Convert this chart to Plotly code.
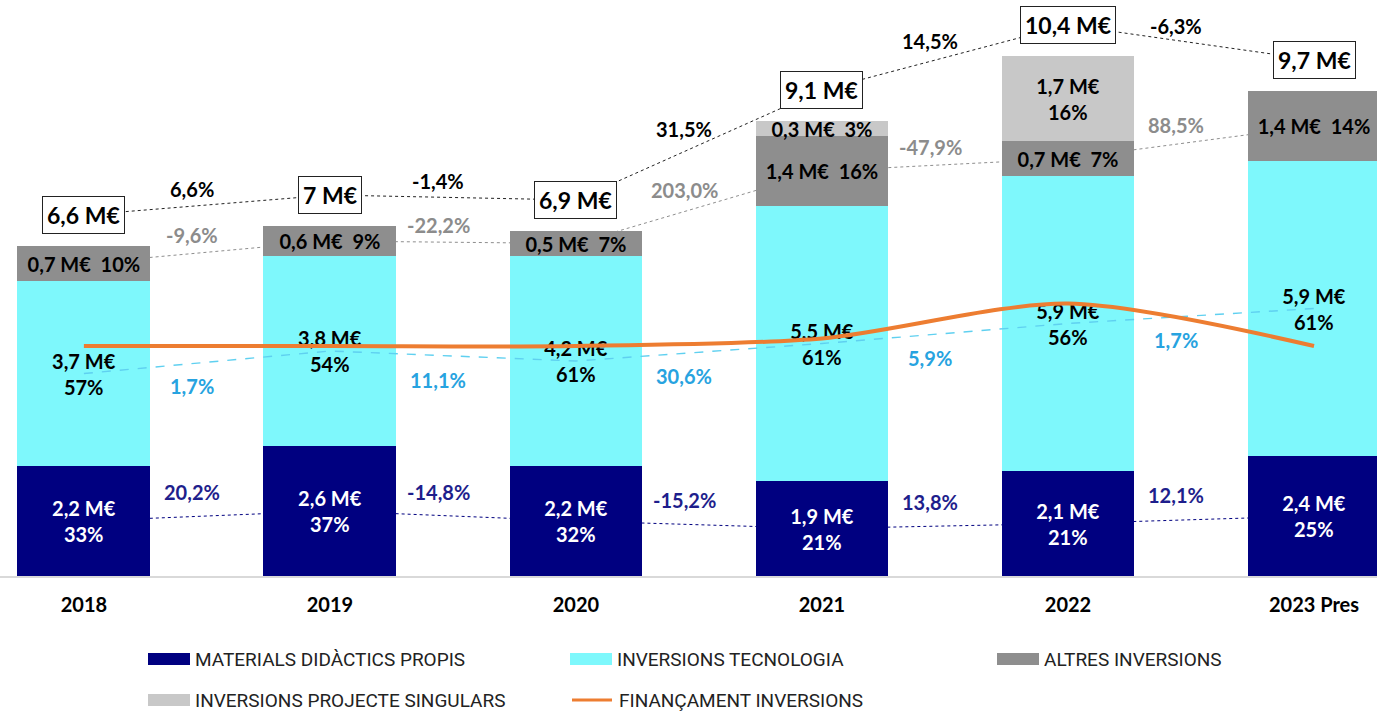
import plotly.graph_objects as go

# ---------------- data ----------------
years = ["2018", "2019", "2020", "2021", "2022", "2023 Pres"]
materials = [2.2, 2.6, 2.2, 1.9, 2.1, 2.4]
tecnologia = [3.7, 3.8, 4.2, 5.5, 5.9, 5.9]
altres = [0.7, 0.6, 0.5, 1.4, 0.7, 1.4]
singulars = [0.0, 0.0, 0.0, 0.3, 1.7, 0.0]
totals = [6.6, 7.0, 6.9, 9.1, 10.4, 9.7]
financament = [4.6, 4.6, 4.6, 4.75, 5.45, 4.6]

materials_pct = [33, 37, 32, 21, 21, 25]
tecnologia_pct = [57, 54, 61, 61, 56, 61]
altres_pct = [10, 9, 7, 16, 7, 14]
singulars_pct = [None, None, None, 3, 16, None]

growth_total = [6.6, -1.4, 31.5, 14.5, -6.3]
growth_altres = [-9.6, -22.2, 203.0, -47.9, 88.5]
growth_tecnologia = [1.7, 11.1, 30.6, 5.9, 1.7]
growth_materials = [20.2, -14.8, -15.2, 13.8, 12.1]

series_names = ["MATERIALS DIDÀCTICS PROPIS", "INVERSIONS TECNOLOGIA",
                "ALTRES INVERSIONS", "INVERSIONS PROJECTE SINGULARS",
                "FINANÇAMENT INVERSIONS"]

# ---------------- styles ----------------
C_MAT = "#000080"
C_TEC = "#7EF8FC"
C_ALT = "#8E8E8E"
C_SIN = "#C8C8C8"
C_FIN = "#ED7D31"
C_G_TEC = "#27A3E0"
C_G_ALT = "#8C8C8C"
C_G_MAT = "#1E1E8C"
BOLD = "Lato, 'Open Sans', sans-serif"
REG = "Roboto, 'Noto Sans', sans-serif"

W, H = 1377, 712
PLOT_BOTTOM = 576
Y_MAX = 11.52


def eur(v):
    s = f"{v:.1f}".replace(".", ",")
    if s.endswith(",0"):
        s = s[:-2]
    return s + " M€"


def pct(v):
    return f"{v:.1f}".replace(".", ",") + "%"


n = len(years)
mat_mid = [m / 2 for m in materials]
tec_mid = [m + t / 2 for m, t in zip(materials, tecnologia)]
alt_mid = [m + t + a / 2 for m, t, a in zip(materials, tecnologia, altres)]
tot_anchor = [t + 0.62 for t in totals]

fig = go.Figure()

# lines behind bars (base y axis)
fig.add_trace(go.Scatter(x=years, y=mat_mid, mode="lines", yaxis="y",
                         line=dict(color=C_MAT, width=1, dash="dot"),
                         hoverinfo="skip", showlegend=False))
fig.add_trace(go.Scatter(x=years, y=alt_mid, mode="lines", yaxis="y",
                         line=dict(color=C_ALT, width=1, dash="dot"),
                         hoverinfo="skip", showlegend=False))

# bars (overlay y2)
bar_font = dict(family=BOLD, size=20, weight="bold")
mat_text = [f"{eur(v)}<br>{p}%" for v, p in zip(materials, materials_pct)]
tec_text = [f"{eur(v)}<br>{p}%" for v, p in zip(tecnologia, tecnologia_pct)]
alt_text = [f"{eur(v)}\u00a0 {p}%" for v, p in zip(altres, altres_pct)]
sin_text = []
for v, p in zip(singulars, singulars_pct):
    if p is None:
        sin_text.append("")
    elif v >= 1:
        sin_text.append(f"{eur(v)}<br>{p}%")
    else:
        sin_text.append(f"{eur(v)}\u00a0 {p}%")

for name, vals, col, txt, tcol in [
    (series_names[0], materials, C_MAT, mat_text, "white"),
    (series_names[1], tecnologia, C_TEC, tec_text, "black"),
    (series_names[2], altres, C_ALT, alt_text, "black"),
    (series_names[3], singulars, C_SIN, sin_text, "black"),
]:
    fig.add_trace(go.Bar(x=years, y=vals, name=name, yaxis="y2", width=0.54,
                         marker=dict(color=col, line=dict(width=0)),
                         text=txt, textposition="inside",
                         insidetextanchor="middle", textangle=0,
                         constraintext="none",
                         textfont=dict(bar_font, color=tcol),
                         hoverinfo="skip", showlegend=False))

# lines above bars (overlay y3)
fig.add_trace(go.Scatter(x=years, y=tec_mid, mode="lines", yaxis="y3",
                         line=dict(color="#5FD0F0", width=1.4, dash="dash"),
                         hoverinfo="skip", showlegend=False))
fig.add_trace(go.Scatter(x=years, y=financament, mode="lines", yaxis="y3",
                         name=series_names[4],
                         line=dict(color=C_FIN, width=4, shape="spline",
                                   smoothing=0.8),
                         hoverinfo="skip", showlegend=False))
fig.add_trace(go.Scatter(x=years, y=tot_anchor, mode="lines", yaxis="y3",
                         line=dict(color="#222222", width=1, dash="dot"),
                         hoverinfo="skip", showlegend=False))

annotations = []
# total boxes
for i in range(n):
    annotations.append(dict(x=i, y=tot_anchor[i], xref="x", yref="y",
                            text=eur(totals[i]), showarrow=False,
                            font=dict(family=BOLD, size=23, color="black",
                                      weight="bold"),
                            bgcolor="white", bordercolor="#222222",
                            borderwidth=1, borderpad=4))


# growth labels
def add_growth(vals, anchors, offset, color):
    for i, g in enumerate(vals):
        y = (anchors[i] + anchors[i + 1]) / 2 + offset
        annotations.append(dict(x=i + 0.44, y=y, xref="x", yref="y",
                                text=pct(g), showarrow=False,
                                font=dict(family=BOLD, size=20, color=color,
                                          weight="bold")))


add_growth(growth_total, tot_anchor, 0.33, "black")
add_growth(growth_altres, alt_mid, 0.35, C_G_ALT)
add_growth(growth_tecnologia, tec_mid, -0.48, C_G_TEC)
add_growth(growth_materials, mat_mid, 0.49, C_G_MAT)


# custom legend
def px_x(p):
    return p / W


def px_y(p):
    return (PLOT_BOTTOM - p) / PLOT_BOTTOM


shapes = []
legend_items = [
    (series_names[0], C_MAT, "rect", 148, 659),
    (series_names[1], C_TEC, "rect", 570, 659),
    (series_names[2], C_ALT, "rect", 997, 659),
    (series_names[3], C_SIN, "rect", 148, 700),
    (series_names[4], C_FIN, "line", 572, 700),
]
for name, col, kind, lx, ly in legend_items:
    if kind == "rect":
        shapes.append(dict(type="rect", xref="paper", yref="paper",
                           x0=px_x(lx), x1=px_x(lx + 42),
                           y0=px_y(ly + 6), y1=px_y(ly - 6),
                           fillcolor=col, line=dict(width=0)))
    else:
        shapes.append(dict(type="line", xref="paper", yref="paper",
                           x0=px_x(lx), x1=px_x(lx + 40),
                           y0=px_y(ly), y1=px_y(ly),
                           line=dict(color=col, width=3)))
    annotations.append(dict(x=px_x(lx + 45), y=px_y(ly), xref="paper",
                            yref="paper", xanchor="left", yanchor="middle",
                            text=name, showarrow=False,
                            font=dict(family=REG, size=19, color="#222222")))

yax = dict(range=[0, Y_MAX], visible=False, showgrid=False, zeroline=False,
           fixedrange=True)

fig.update_layout(
    width=W, height=H,
    margin=dict(l=0, r=0, t=0, b=H - PLOT_BOTTOM, autoexpand=False),
    paper_bgcolor="white", plot_bgcolor="white",
    barmode="stack", showlegend=False,
    xaxis=dict(type="category", range=[-0.341, 5.256], showgrid=False,
               zeroline=False, showline=True, linecolor="#D9D9D9",
               linewidth=2, ticks="", ticklabelstandoff=10,
               tickfont=dict(family=BOLD, size=20, color="black",
                             weight="bold"),
               fixedrange=True),
    yaxis=yax,
    yaxis2=dict(yax, overlaying="y"),
    yaxis3=dict(yax, overlaying="y"),
    annotations=annotations,
    shapes=shapes,
)

fig.write_html("out.html", config={"displayModeBar": False},
               post_script="document.body.style.margin='0';"
                           "document.body.style.overflow='hidden';")
